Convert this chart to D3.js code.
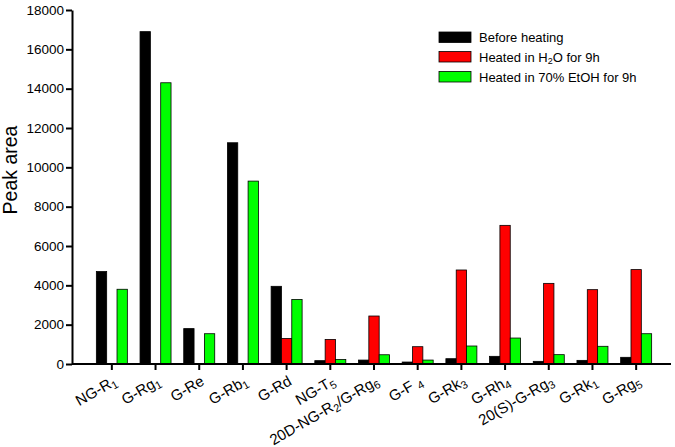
<!DOCTYPE html>
<html>
<head>
<meta charset="utf-8">
<script src="https://cdn.jsdelivr.net/npm/d3@7"></script>
<style>
  body { margin: 0; background: #fff; }
  svg { display: block; font-family: Arial, "Liberation Sans", sans-serif; }
</style>
</head>
<body>
<svg id="chart" width="675" height="447"></svg>
<script>
// subscripts are written as "_n"
const categories = ["NG-R_1", "G-Rg_1", "G-Re", "G-Rb_1", "G-Rd", "NG-T_5", "20D-NG-R_2/G-Rg_6",
    "G-F _4", "G-Rk_3", "G-Rh_4", "20(S)-G-Rg_3", "G-Rk_1", "G-Rg_5"];
const beforeHeating = [4700, 16900, 1800, 11250, 3950, 170, 200, 100, 270, 390, 135, 185, 340];
const heatedH2O = [0, 0, 0, 0, 1300, 1250, 2440, 880, 4780, 7050, 4100, 3780, 4800];
const heatedEtOH = [3800, 14300, 1540, 9300, 3280, 230, 470, 200, 915, 1320, 475, 900, 1540];
const seriesNames = ["Before heating", "Heated in H_2O for 9h", "Heated in 70% EtOH for 9h"];
const seriesColors = ["#000000", "#ff0000", "#00ff00"];
const yTicks = [0, 2000, 4000, 6000, 8000, 10000, 12000, 14000, 16000, 18000];

const svg = d3.select("#chart");

const x0 = d3.scaleBand().domain(categories).range([90, 658]).padding(0);
const x1 = d3.scaleBand().domain([0, 1, 2]).range([0, 31]).padding(0);
const y = d3.scaleLinear().domain([0, 18000]).range([364, 10]);

const series = [beforeHeating, heatedH2O, heatedEtOH];

// 라벨에 아래첨자 넣기
const writeSub = (sel, str, subSize) => {
    const parts = str.split(/_(\d)/);
    parts.forEach((p, i) => {
        if (p === "") return;
        if (i % 2 === 1) {
            sel.append("tspan").attr("font-size", subSize).attr("baseline-shift", "-25%").text(p);
        } else {
            sel.append("tspan").text(p);
        }
    });
};

// bars
const groups = svg.append("g").selectAll("g")
    .data(categories)
    .join("g")
    .attr("transform", d => `translate(${x0(d) + x0.bandwidth() / 2 - 15.5},0)`);

groups.selectAll("rect")
    .data((d, i) => series.map((s, k) => ({ k, v: s[i] })).filter(e => e.v > 0))
    .join("rect")
    .attr("x", d => x1(d.k))
    .attr("width", x1.bandwidth())
    .attr("y", d => y(d.v))
    .attr("height", d => y(0) - y(d.v))
    .attr("fill", d => seriesColors[d.k])
    .attr("stroke", "#000")
    .attr("stroke-width", 0.8);

// y axis
const yAxis = svg.append("g")
    .attr("transform", "translate(72,0)")
    .call(d3.axisLeft(y).tickValues(yTicks).tickSize(6).tickSizeOuter(0).tickFormat(d3.format("d")));
yAxis.select(".domain").attr("stroke-width", 2);
yAxis.selectAll(".tick line").attr("stroke-width", 2);
yAxis.selectAll("text").attr("font-size", 13.5).attr("font-family", "Arial, 'Liberation Sans', sans-serif")
    .attr("fill", "#000").attr("x", -8);

// x axis
const xAxis = svg.append("g")
    .attr("transform", "translate(0,364)")
    .call(d3.axisBottom(x0).tickSize(6).tickSizeOuter(0).tickFormat(""));
xAxis.select(".domain").attr("d", "M72,0H671").attr("stroke-width", 2);
xAxis.selectAll(".tick line").attr("stroke-width", 2);

// x labels, rotated
svg.append("g").selectAll("text")
    .data(categories)
    .join("text")
    .attr("text-anchor", "end")
    .attr("font-size", 15)
    .attr("fill", "#000")
    .attr("transform", d => `translate(${x0(d) + x0.bandwidth() / 2 + 6},384) rotate(-30)`)
    .each(function (d) { writeSub(d3.select(this), d, 11); });

// y title
svg.append("text")
    .attr("transform", "translate(17,170) rotate(-90)")
    .attr("text-anchor", "middle")
    .attr("font-size", 19.5)
    .attr("fill", "#000")
    .text("Peak area");

// legend
const legend = svg.append("g").attr("transform", "translate(439,32)");
const rows = legend.selectAll("g")
    .data(seriesNames)
    .join("g")
    .attr("transform", (d, i) => `translate(0,${[0, 19.5, 39.5][i]})`);
rows.append("rect")
    .attr("width", 32).attr("height", 10.5)
    .attr("fill", (d, i) => seriesColors[i])
    .attr("stroke", "#000").attr("stroke-width", 0.8);
rows.append("text")
    .attr("x", 40).attr("y", 10)
    .attr("font-size", 13)
    .attr("fill", "#000")
    .each(function (d) { writeSub(d3.select(this), d, 9); });
</script>
</body>
</html>
